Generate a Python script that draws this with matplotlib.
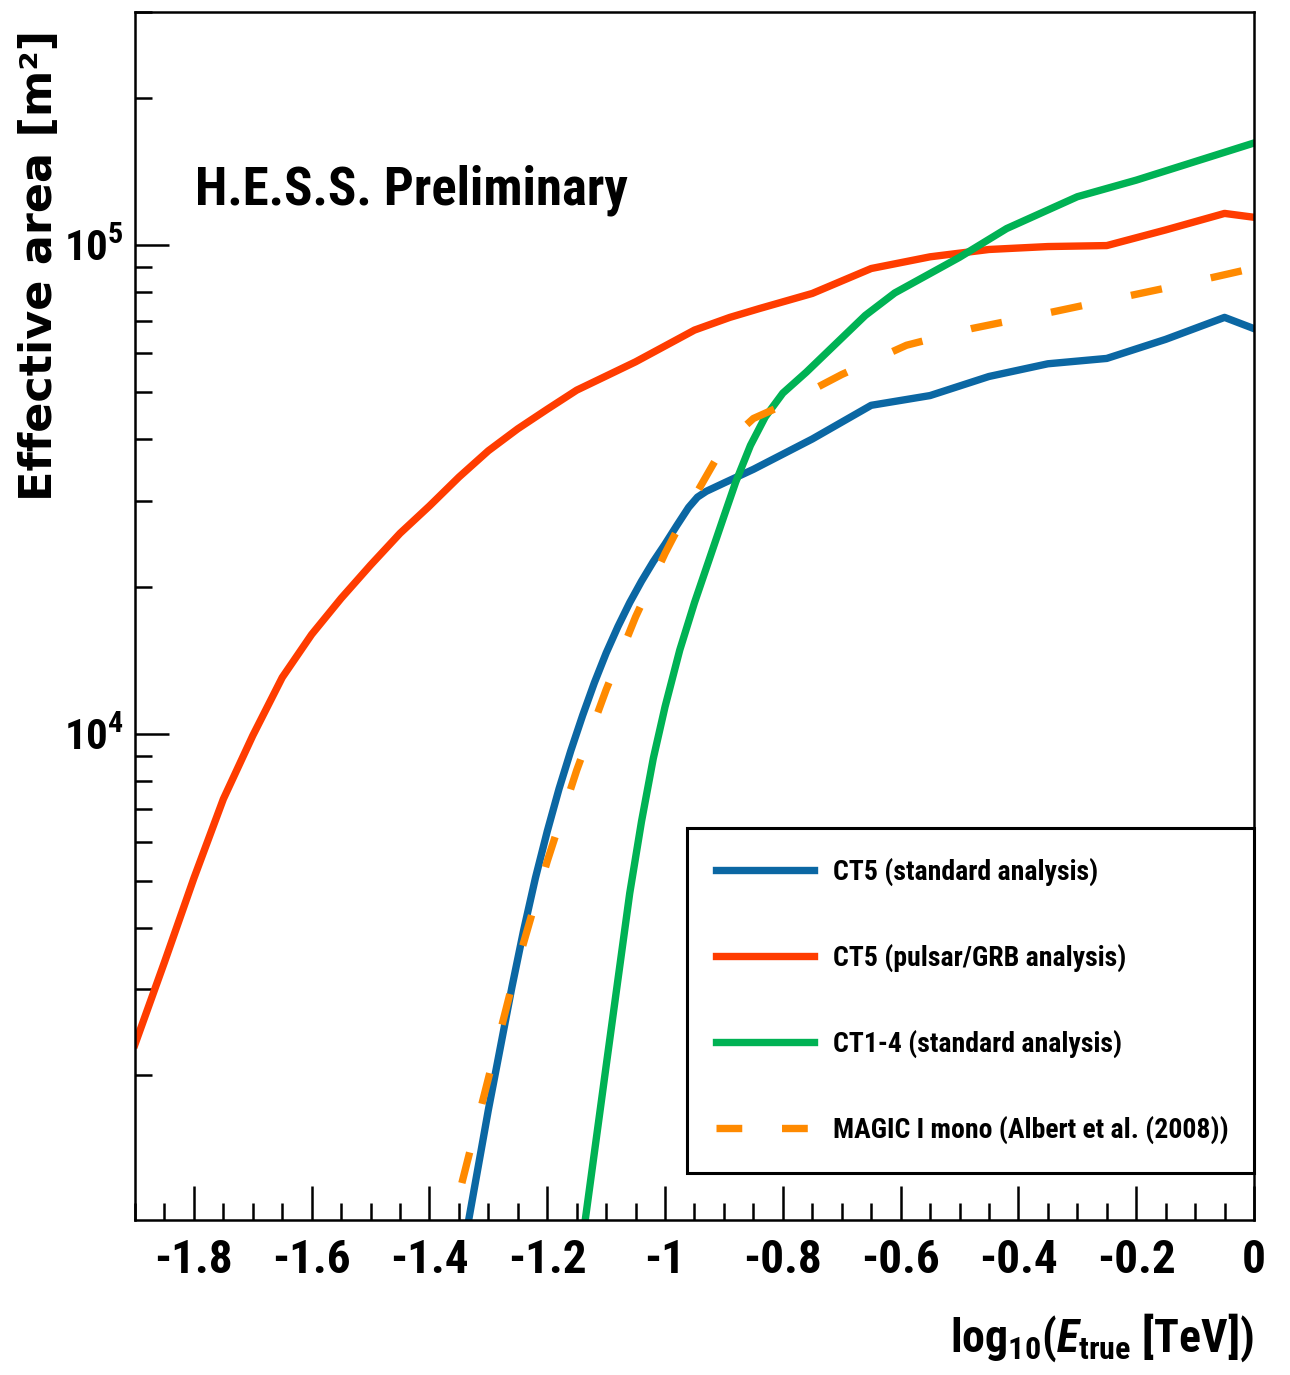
import numpy as np
import matplotlib
matplotlib.use("Agg")
import matplotlib.pyplot as plt
from matplotlib import font_manager as fm
from matplotlib.lines import Line2D
from matplotlib.ticker import (FixedLocator, MultipleLocator, LogLocator,
                               NullFormatter, FuncFormatter)

# ---------------------------------------------------------------------------
# Effective area curves: log10(E_true / TeV) and effective area in m^2
# ---------------------------------------------------------------------------
ct5_std_loge = [-1.34, -1.30, -1.26, -1.24, -1.22, -1.20, -1.18, -1.16, -1.14,
                -1.12, -1.10, -1.08, -1.06, -1.04, -1.02, -1.00, -0.98, -0.96,
                -0.945, -0.93, -0.90, -0.85, -0.75, -0.65, -0.55, -0.45, -0.35,
                -0.25, -0.15, -0.05, 0.0]
ct5_std_area = [912, 1698, 3027, 3963, 5070, 6310, 7709, 9226, 10890,
                12710, 14620, 16560, 18540, 20510, 22490, 24430, 26670, 29040,
                30480, 31330, 32580, 34750, 40090, 46990, 49200, 53830, 57150,
                58610, 64120, 71120, 67450]

ct5_grb_loge = [-1.90, -1.85, -1.80, -1.75, -1.70, -1.65, -1.60, -1.55, -1.50,
                -1.45, -1.40, -1.35, -1.30, -1.25, -1.20, -1.15, -1.10, -1.05,
                -0.95, -0.89, -0.84, -0.75, -0.65, -0.55, -0.45, -0.35, -0.25,
                -0.15, -0.05, 0.0]
ct5_grb_area = [2312, 3404, 5058, 7345, 9908, 13030, 15960, 18920, 22130,
                25700, 29240, 33500, 37930, 42070, 46130, 50470, 53950, 57680,
                66990, 71120, 74130, 79620, 89540, 94620, 97950, 99310, 99770,
                107400, 116100, 114000]

ct14_loge = [-1.145, -1.10, -1.06, -1.04, -1.02, -1.00, -0.975, -0.95, -0.924,
             -0.90, -0.88, -0.855, -0.83, -0.80, -0.76, -0.66, -0.61, -0.50,
             -0.42, -0.30, -0.20, 0.0]
ct14_area = [832, 2089, 4710, 6607, 8892, 11350, 14830, 18540, 22910,
             27860, 32730, 38900, 44460, 49770, 54950, 71780, 79800, 94410,
             108100, 125600, 135800, 161800]

magic_loge = [-1.345, -1.30, -1.25, -1.20, -1.15, -1.10, -1.05, -1.00, -0.95,
              -0.90, -0.85, -0.80, -0.70, -0.59, -0.48, -0.37, -0.26, -0.15,
              -0.04, 0.0]
magic_area = [1202, 1968, 3396, 5483, 8414, 12300, 17340, 23390, 30550,
              38900, 44160, 46990, 54330, 62370, 67450, 71780, 76560, 81660,
              87500, 89740]

labels = ["CT5 (standard analysis)", "CT5 (pulsar/GRB analysis)",
          "CT1-4 (standard analysis)", "MAGIC I mono (Albert et al. (2008))"]
x_ticks = [-1.8, -1.6, -1.4, -1.2, -1.0, -0.8, -0.6, -0.4, -0.2, 0.0]
y_ticks = [1e4, 1e5]

C_BLUE = "#0b67a3"
C_RED = "#ff3c00"
C_GREEN = "#00b254"
C_ORANGE = "#ff8a00"


# ---------------------------------------------------------------------------
# Fonts: a narrow bold sans for most text, a wide bold sans for the y title
# ---------------------------------------------------------------------------
def pick_narrow():
    names = {f.name for f in fm.fontManager.ttflist}
    for fam in ["Liberation Sans Narrow", "Arial Narrow", "Nimbus Sans Narrow",
                "Roboto Condensed", "Open Sans Condensed"]:
        if fam in names:
            return fam, "normal"
    for f in fm.fontManager.ttflist:
        if f.name == "DejaVu Sans" and "ondensed" in str(f.stretch):
            return "DejaVu Sans", "condensed"
    return "Liberation Sans", "normal"


NARROW, STRETCH = pick_narrow()
mt_suffix = ":condensed" if STRETCH == "condensed" else ""

plt.rcParams.update({
    "font.family": [NARROW, "DejaVu Sans"],
    "font.weight": "bold",
    "font.stretch": STRETCH,
    "axes.labelweight": "bold",
    "axes.unicode_minus": False,
    "mathtext.fontset": "custom",
    "mathtext.rm": f"{NARROW}:bold{mt_suffix}",
    "mathtext.bf": f"{NARROW}:bold{mt_suffix}",
    "mathtext.it": f"{NARROW}:italic:bold{mt_suffix}",
    "mathtext.sf": f"{NARROW}:bold{mt_suffix}",
})

W, H = 1290, 1375
fig = plt.figure(figsize=(W / 100, H / 100), dpi=100)
ax = fig.add_axes([135 / W, 1 - 1220 / H, 1119 / W, 1208 / H])

LW = 5.3
l_grb, = ax.plot(ct5_grb_loge, ct5_grb_area, color=C_RED, lw=LW,
                 solid_joinstyle="round")
l_std, = ax.plot(ct5_std_loge, ct5_std_area, color=C_BLUE, lw=LW,
                 solid_joinstyle="round")
l_ct14, = ax.plot(ct14_loge, ct14_area, color=C_GREEN, lw=LW,
                  solid_joinstyle="round")
l_magic, = ax.plot(magic_loge, magic_area, color=C_ORANGE, lw=LW,
                   linestyle=(0, (4.3, 6.8)))

ax.set_yscale("log")
ax.set_xlim(-1.9, 0.0)
ax.set_ylim(1010, 3.0e5)

# axes frame and ticks
for sp in ax.spines.values():
    sp.set_linewidth(1.8)
ax.xaxis.set_major_locator(FixedLocator(x_ticks))
ax.xaxis.set_minor_locator(MultipleLocator(0.05))
ax.xaxis.set_major_formatter(FuncFormatter(lambda v, p: "%g" % round(v, 2)))
ax.yaxis.set_major_locator(FixedLocator(y_ticks))
ax.yaxis.set_minor_locator(LogLocator(base=10, subs=np.arange(2, 10)))
ax.yaxis.set_minor_formatter(NullFormatter())
ax.yaxis.set_major_formatter(
    FuncFormatter(lambda v, p: r"$10^{%d}$" % int(round(np.log10(v)))))

ax.tick_params(which="both", direction="in", top=False, right=False,
               width=1.8, colors="black")
ax.tick_params(which="major", length=24.5)
ax.tick_params(which="minor", length=12.2)
ax.tick_params(axis="x", which="major", pad=13, labelsize=34)
ax.tick_params(axis="y", which="major", pad=8, labelsize=31)

# axis titles
ax.set_ylabel("Effective area [m²]", family="DejaVu Sans", weight="bold",
              fontsize=32, stretch="normal")
ax.yaxis.label.set_ha("center")
ax.yaxis.label.set_va("center")
ax.yaxis.set_label_coords((40 - 135) / 1119, (1220 - 265) / 1208)

ax.set_xlabel(r"log$_{10}$($E_{\rm true}$ [TeV])", fontsize=33,
              fontweight="bold")
ax.xaxis.label.set_ha("right")
ax.xaxis.label.set_va("baseline")
ax.xaxis.set_label_coords(1.0, (1220 - 1352) / 1208)

ax.text((195 - 135) / 1119, (1220 - 205) / 1208, "H.E.S.S. Preliminary",
        transform=ax.transAxes, fontsize=38, ha="left", va="baseline")

# legend
magic_key = Line2D([], [], color=C_ORANGE, lw=LW, linestyle=(0, (3.5, 5.4)))
x0 = (687 - 135) / 1119
ytop = (1220 - 828) / 1208
ybot = (1220 - 1172) / 1208
leg = ax.legend([l_std, l_grb, l_ct14, magic_key], labels,
                loc="upper left", bbox_to_anchor=(x0, ybot, 1 - x0, ytop - ybot),
                mode="expand", borderaxespad=0, fontsize=20,
                handlelength=3.5, handletextpad=0.7, labelspacing=2.085,
                borderpad=1.06, fancybox=False, framealpha=1,
                edgecolor="black")
leg.get_frame().set_linewidth(2.2)

fig.savefig("out.png", dpi=100, facecolor="white")
